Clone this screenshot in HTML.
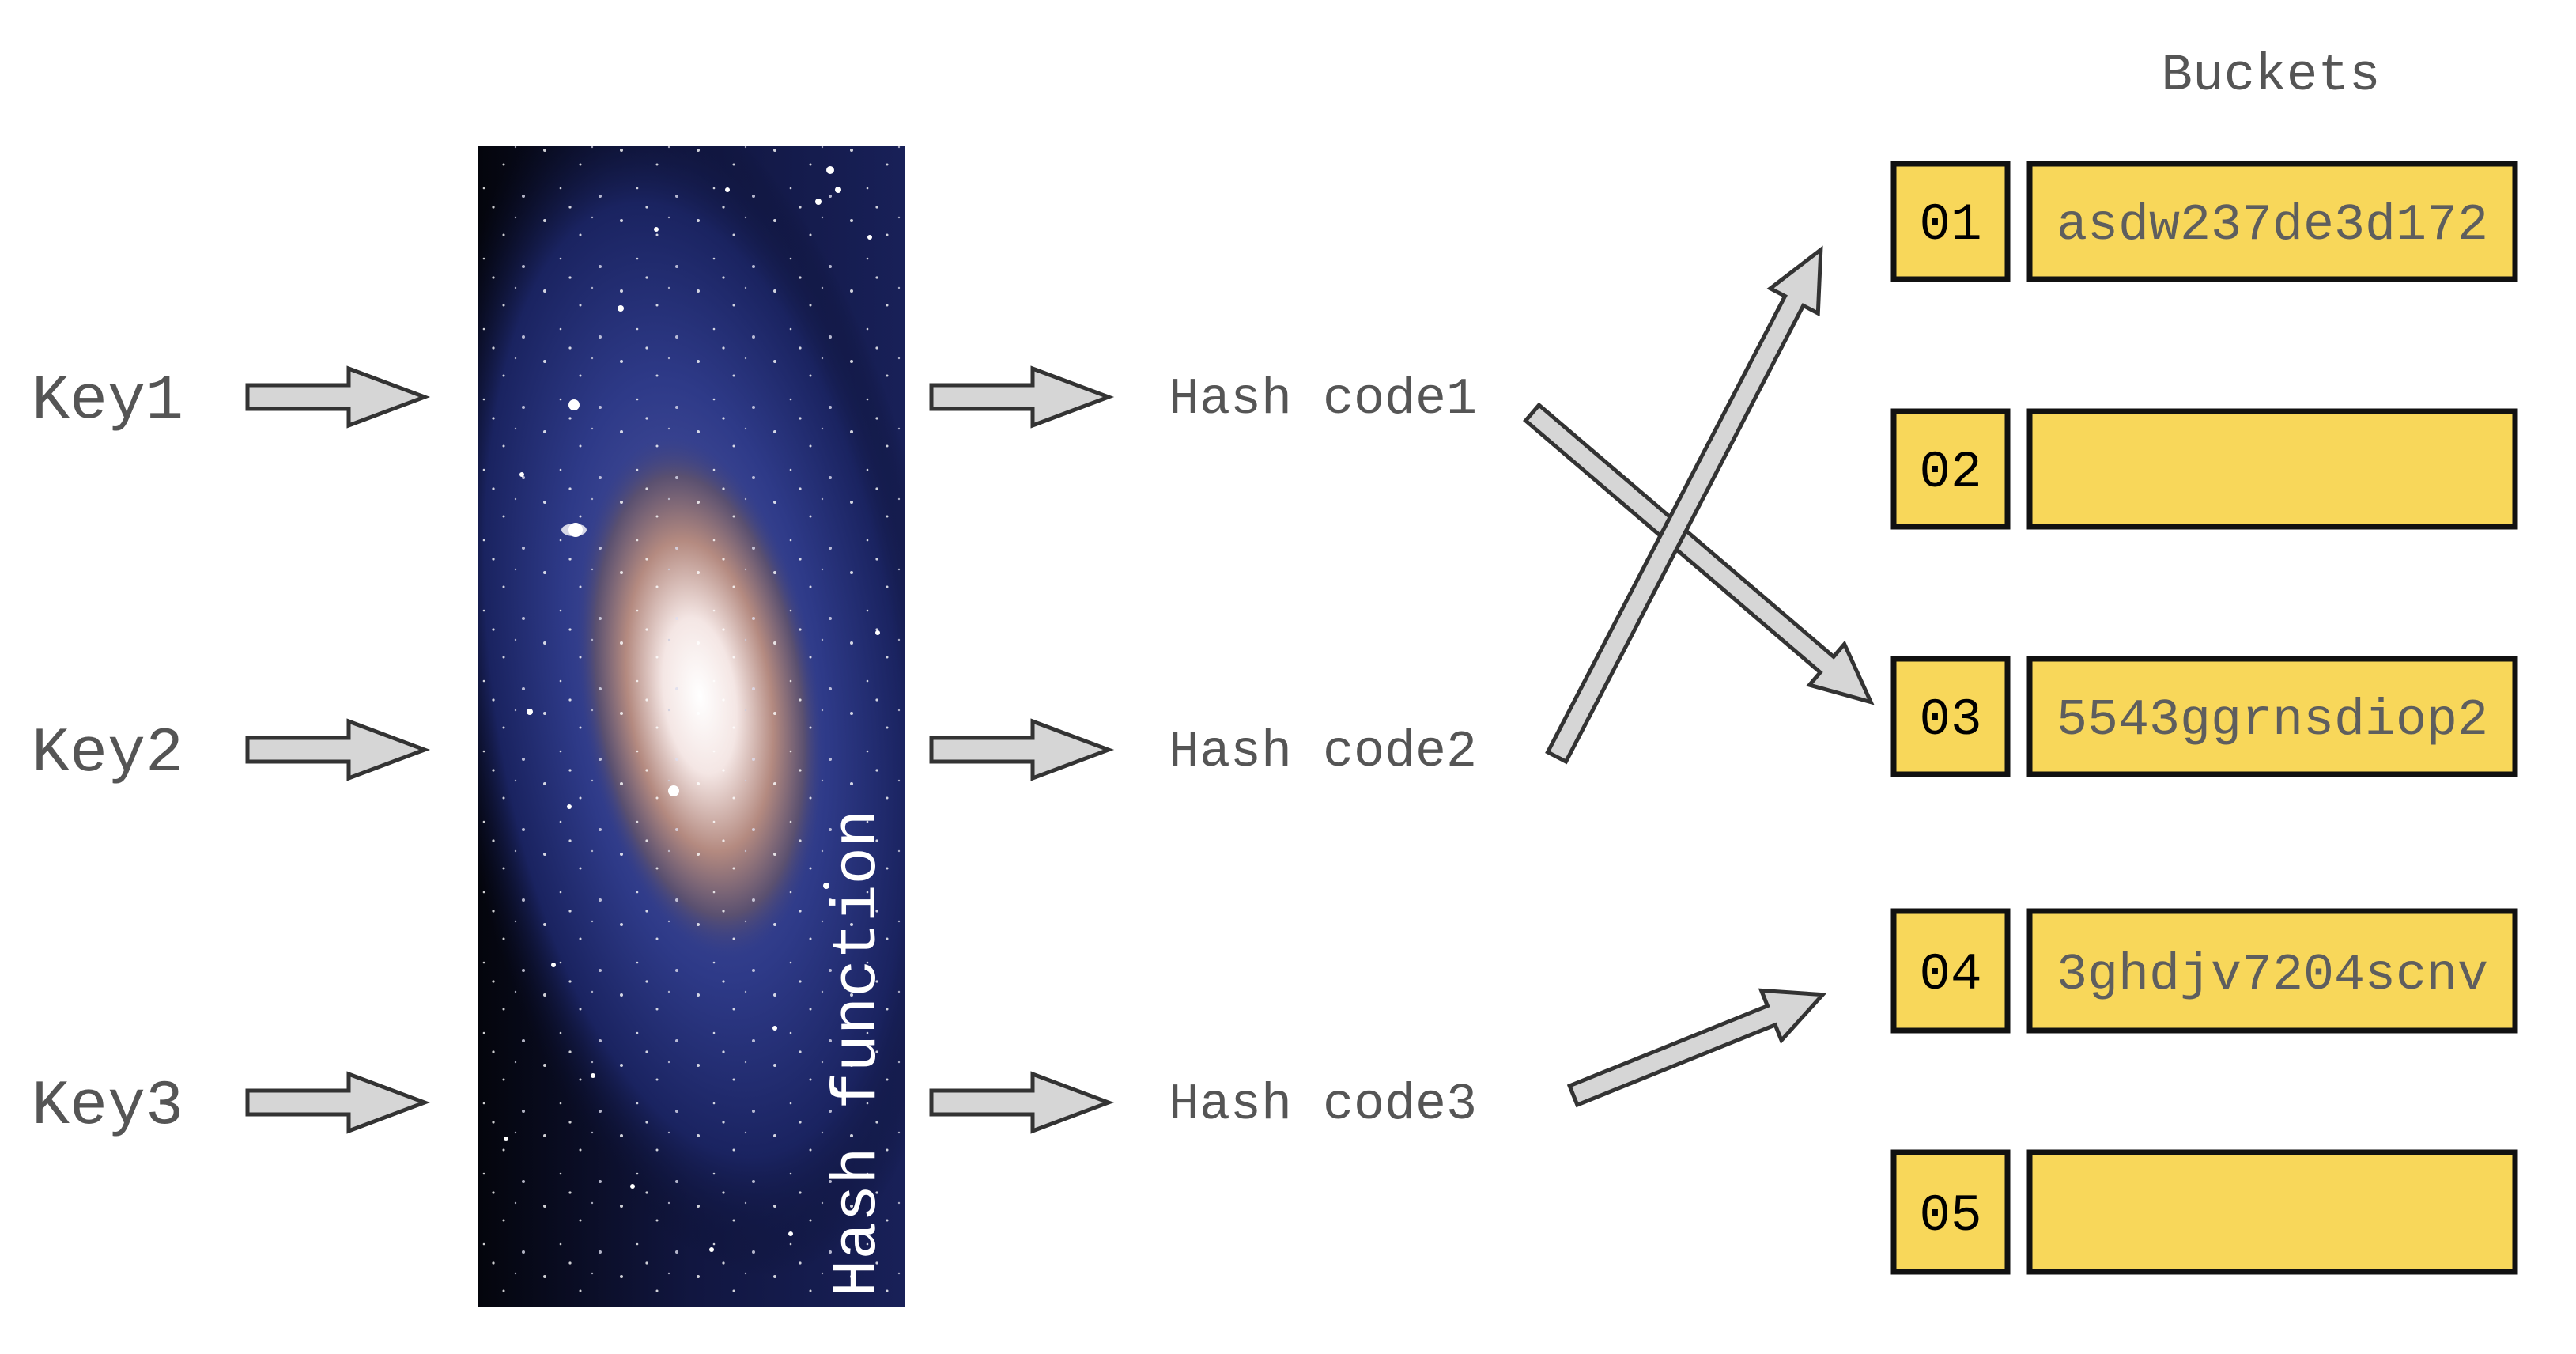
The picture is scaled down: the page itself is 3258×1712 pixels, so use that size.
<!DOCTYPE html>
<html><head><meta charset="utf-8"><style>
html,body{margin:0;padding:0;background:#fff;}
svg{display:block;}
text{font-family:"Liberation Mono","DejaVu Sans Mono",monospace;}
</style></head><body>
<svg width="3258" height="1712" viewBox="0 0 3258 1712" xmlns="http://www.w3.org/2000/svg">
<defs>
<radialGradient id="disk" cx="0.5" cy="0.5" r="0.5">
<stop offset="0" stop-color="#5a5fa8"/>
<stop offset="0.5" stop-color="#2e3a88"/>
<stop offset="0.8" stop-color="#1a2360"/>
<stop offset="1" stop-color="#0a0e2a" stop-opacity="0"/>
</radialGradient>
<radialGradient id="core" cx="0.5" cy="0.5" r="0.5">
<stop offset="0" stop-color="#ffffff"/>
<stop offset="0.3" stop-color="#f4e6e4"/>
<stop offset="0.6" stop-color="#b48a80"/>
<stop offset="0.85" stop-color="#5a5070"/>
<stop offset="1" stop-color="#3a3f80" stop-opacity="0"/>
</radialGradient>
<linearGradient id="bg" x1="0" x2="1" y1="0" y2="0">
<stop offset="0" stop-color="#04050c"/>
<stop offset="0.5" stop-color="#111640"/>
<stop offset="1" stop-color="#182058"/>
</linearGradient>
<clipPath id="gclip"><rect x="604" y="184" width="540" height="1468"/></clipPath>
<pattern id="stars" width="97" height="89" patternUnits="userSpaceOnUse">
<circle cx="10" cy="12" r="2" fill="#fff"/><circle cx="55" cy="30" r="1.5" fill="#fff"/>
<circle cx="80" cy="70" r="2" fill="#dde"/><circle cx="30" cy="60" r="1.3" fill="#fff"/>
<circle cx="70" cy="8" r="1.2" fill="#ccd"/><circle cx="42" cy="84" r="1.6" fill="#fff"/>
</pattern>
</defs>

<g clip-path="url(#gclip)">
<rect x="604" y="184" width="540" height="1468" fill="url(#bg)"/>
<ellipse cx="880" cy="860" rx="320" ry="760" fill="url(#disk)" transform="rotate(-8 880 860)"/>
<ellipse cx="885" cy="880" rx="150" ry="330" fill="url(#core)" transform="rotate(-8 885 880)"/>
<rect x="604" y="184" width="540" height="1468" fill="url(#stars)" opacity="0.8"/>
<g fill="#fff">
<circle cx="726" cy="512" r="7"/><circle cx="728" cy="670" r="9"/><circle cx="785" cy="390" r="4"/>
<circle cx="1050" cy="215" r="5"/><circle cx="1060" cy="240" r="4"/><circle cx="1035" cy="255" r="4"/>
<circle cx="1100" cy="300" r="3"/><circle cx="830" cy="290" r="3"/><circle cx="920" cy="240" r="3"/>
<circle cx="852" cy="1000" r="7"/><circle cx="670" cy="900" r="4"/><circle cx="720" cy="1020" r="3"/>
<circle cx="1045" cy="1120" r="4"/><circle cx="1055" cy="1380" r="5"/><circle cx="750" cy="1360" r="3"/>
<circle cx="640" cy="1440" r="3"/><circle cx="800" cy="1500" r="3"/><circle cx="900" cy="1580" r="3"/>
<circle cx="1000" cy="1560" r="3"/><circle cx="660" cy="600" r="3"/><circle cx="1110" cy="800" r="3"/>
<circle cx="700" cy="1220" r="3"/><circle cx="980" cy="1300" r="3"/>
</g>
<ellipse cx="726" cy="670" rx="16" ry="8" fill="#fff" opacity="0.8"/>
<text x="0" y="0" transform="translate(1106 1640) rotate(-90)" font-size="79" fill="#fff">Hash function</text>
</g>

<g font-size="80" fill="#555">
<text x="40" y="528">Key1</text>
<text x="40" y="974">Key2</text>
<text x="40" y="1420">Key3</text>
</g>
<g font-size="65" fill="#555">
<text x="1478" y="522">Hash code1</text>
<text x="1478" y="968">Hash code2</text>
<text x="1478" y="1414">Hash code3</text>
</g>
<text x="2872" y="113" font-size="66" fill="#555" text-anchor="middle">Buckets</text>

<g fill="#d6d6d6" stroke="#333" stroke-width="5" stroke-linejoin="miter">
<polygon points="0,-15 128,-15 128,-36 224,0 128,36 128,15 0,15" transform="translate(313 502)"/>
<polygon points="0,-15 128,-15 128,-36 224,0 128,36 128,15 0,15" transform="translate(313 948)"/>
<polygon points="0,-15 128,-15 128,-36 224,0 128,36 128,15 0,15" transform="translate(313 1394)"/>
<polygon points="0,-15 128,-15 128,-36 224,0 128,36 128,15 0,15" transform="translate(1178 502)"/>
<polygon points="0,-15 128,-15 128,-36 224,0 128,36 128,15 0,15" transform="translate(1178 948)"/>
<polygon points="0,-15 128,-15 128,-36 224,0 128,36 128,15 0,15" transform="translate(1178 1394)"/>
<polygon points="0,-13 490,-13 490,-34 563,0 490,34 490,13 0,13" transform="translate(1938 522) rotate(40.5)"/>
<polygon points="0,-13 650,-13 650,-34 723,0 650,34 650,13 0,13" transform="translate(1969 957) rotate(-62.5)"/>
<polygon points="0,-13 270,-13 270,-34 340,0 270,34 270,13 0,13" transform="translate(1990 1385) rotate(-22)"/>
</g>

<g fill="#f8d75a" stroke="#111" stroke-width="7">
<rect x="2395" y="207" width="144" height="146"/><rect x="2567" y="207" width="614" height="146"/>
<rect x="2395" y="520" width="144" height="146"/><rect x="2567" y="520" width="614" height="146"/>
<rect x="2395" y="833" width="144" height="146"/><rect x="2567" y="833" width="614" height="146"/>
<rect x="2395" y="1152" width="144" height="151"/><rect x="2567" y="1152" width="614" height="151"/>
<rect x="2395" y="1457" width="144" height="151"/><rect x="2567" y="1457" width="614" height="151"/>
</g>
<g font-size="66" fill="#000" text-anchor="middle">
<text x="2467" y="302">01</text>
<text x="2467" y="615">02</text>
<text x="2467" y="928">03</text>
<text x="2467" y="1250">04</text>
<text x="2467" y="1555">05</text>
</g>
<g font-size="65" fill="#5e5e5e" text-anchor="middle">
<text x="2874" y="302">asdw237de3d172</text>
<text x="2874" y="928">5543ggrnsdiop2</text>
<text x="2874" y="1250">3ghdjv7204scnv</text>
</g>
</svg>
</body></html>
